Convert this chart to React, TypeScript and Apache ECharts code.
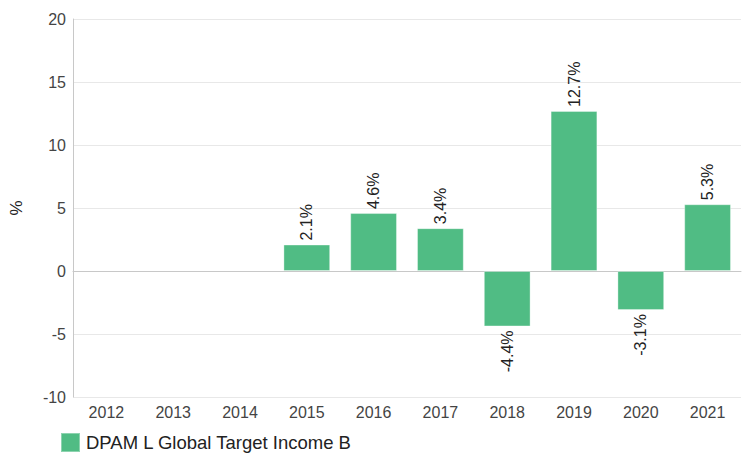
import React, { useEffect, useRef } from "react";
import * as echarts from "echarts";

const categories = ["2012", "2013", "2014", "2015", "2016", "2017", "2018", "2019", "2020", "2021"];
const values: (number | null)[] = [null, null, null, 2.1, 4.6, 3.4, -4.4, 12.7, -3.1, 5.3];
const seriesName = "DPAM L Global Target Income B";
const yTicks = { min: -10, max: 20, interval: 5 };

export default function App() {
  const ref = useRef<HTMLDivElement>(null);
  useEffect(() => {
    if (!ref.current) return;
    const chart = echarts.init(ref.current, null, { renderer: "svg" });
    const font = "Arial, 'Liberation Sans', sans-serif";
    chart.setOption({
      animation: false,
      textStyle: { fontFamily: font },
      grid: { left: 67, right: 2, top: 19, bottom: 56, containLabel: false },
      legend: {
        left: 60,
        top: 432,
        padding: 0,
        itemWidth: 19,
        itemHeight: 19,
        itemGap: 10,
        icon: "rect",
        textStyle: { fontSize: 18.5, color: "#222", fontFamily: font, padding: [0, 0, 0, 1] },
        data: [seriesName],
      },
      xAxis: {
        type: "category",
        data: categories,
        axisLine: { lineStyle: { color: "#c8c8c8" } },
        axisTick: { show: false },
        axisLabel: { color: "#444", fontSize: 16, margin: 7 },
      },
      yAxis: {
        type: "value",
        min: yTicks.min,
        max: yTicks.max,
        interval: yTicks.interval,
        name: "%",
        nameLocation: "middle",
        nameRotate: 90,
        nameGap: 48,
        nameTextStyle: { fontSize: 17, color: "#222" },
        axisLine: { show: true, lineStyle: { color: "#c8c8c8" } },
        axisTick: { show: false },
        axisLabel: { color: "#444", fontSize: 16, margin: 7 },
        splitLine: { lineStyle: { color: "#e8e8e8" } },
      },
      series: [
        {
          name: seriesName,
          type: "bar",
          barCategoryGap: "30%",
          itemStyle: { color: "#50bc84", borderColor: "rgba(255,255,255,0.35)", borderWidth: 1 },
          data: values.map((v) =>
            v === null
              ? null
              : {
                  value: v,
                  label: {
                    show: true,
                    position: v >= 0 ? "top" : "bottom",
                    rotate: 90,
                    align: v >= 0 ? "left" : "right",
                    verticalAlign: "middle",
                    distance: 4,
                    fontSize: 16,
                    color: "#222",
                    formatter: (p: any) => `${p.value}%`,
                  },
                }
          ),
        },
      ],
    });
    return () => chart.dispose();
  }, []);
  return <div ref={ref} style={{ width: 743, height: 453, position: "absolute", left: 0, top: 0 }} />;
}
